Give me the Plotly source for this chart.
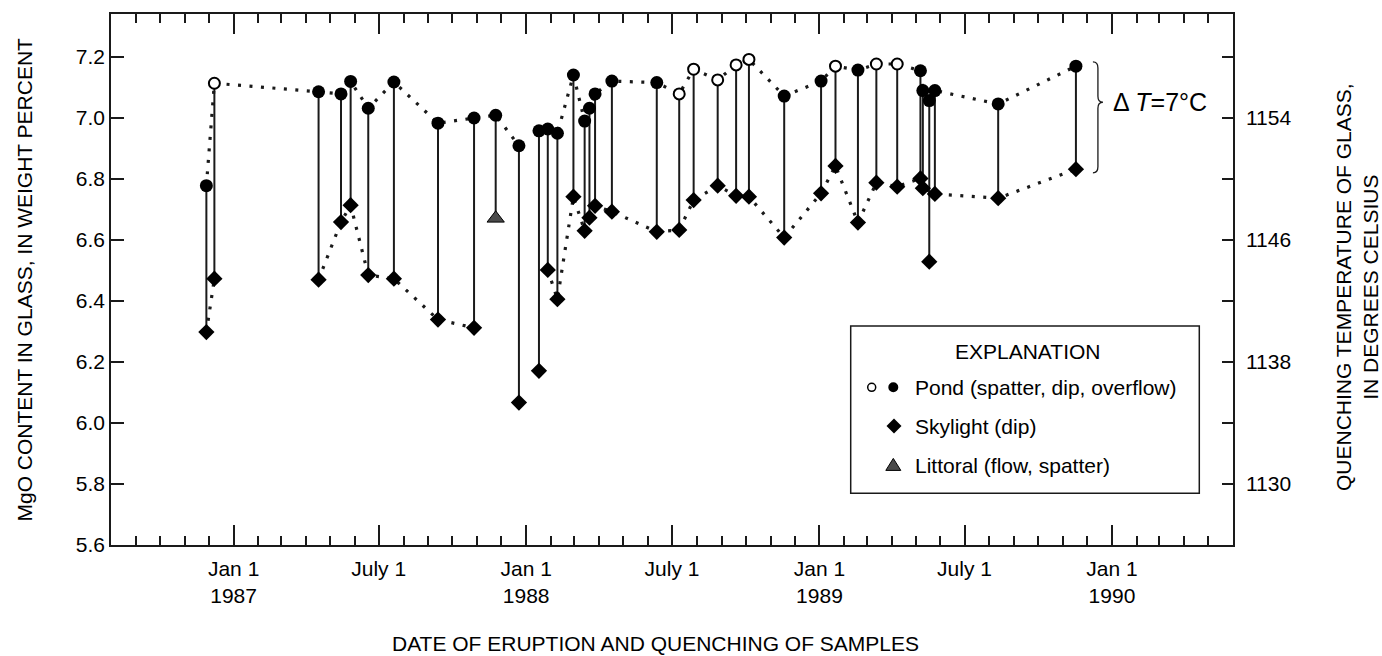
import plotly.graph_objects as go

# ---------------- data ----------------
dates = ["1986-11-28", "1986-12-08", "1987-04-17", "1987-05-15", "1987-05-27",
         "1987-06-18", "1987-07-20", "1987-09-13", "1987-10-28", "1987-11-24",
         "1987-12-23", "1988-01-17", "1988-01-28", "1988-02-09", "1988-02-29",
         "1988-03-14", "1988-03-20", "1988-03-27", "1988-04-17", "1988-06-12",
         "1988-07-10", "1988-07-28", "1988-08-27", "1988-09-19", "1988-10-05",
         "1988-11-18", "1989-01-03", "1989-01-21", "1989-02-18", "1989-03-13",
         "1989-04-08", "1989-05-07", "1989-05-10", "1989-05-18", "1989-05-25",
         "1989-08-12", "1989-11-17"]
pond_mgo = [6.778, 7.114, 7.086, 7.079, 7.120, 7.032, 7.118, 6.983, 7.000, 7.009,
            6.909, 6.958, 6.964, 6.950, 7.141, 6.990, 7.032, 7.079, 7.121, 7.116,
            7.079, 7.160, 7.125, 7.174, 7.192, 7.072, 7.121, 7.170, 7.157, 7.177,
            7.177, 7.155, 7.090, 7.057, 7.090, 7.046, 7.170]
# 1 = open circle, 0 = filled circle
pond_open = [0, 1, 0, 0, 0, 0, 0, 0, 0, 0,
             0, 0, 0, 0, 0, 0, 0, 0, 0, 0,
             1, 1, 1, 1, 1, 0, 0, 1, 0, 1,
             1, 0, 0, 0, 0, 0, 0]
lower_mgo = [6.298, 6.473, 6.470, 6.659, 6.714, 6.485, 6.473, 6.339, 6.312, 6.671,
             6.067, 6.171, 6.502, 6.406, 6.742, 6.630, 6.673, 6.712, 6.693, 6.627,
             6.633, 6.731, 6.778, 6.745, 6.742, 6.608, 6.753, 6.843, 6.657, 6.788,
             6.775, 6.802, 6.770, 6.529, 6.751, 6.737, 6.832]
# S = skylight (dip), L = littoral (flow, spatter)
lower_kind = ["S"] * 9 + ["L"] + ["S"] * 27
# chains of samples joined by the dotted lines
pond_chains = [list(range(0, 11)), list(range(11, 37))]
sky_chains = [[0, 1], list(range(2, 9)), list(range(12, 33)) + [34, 35, 36]]

x_range = ["1986-08-01", "1990-06-01"]
y_range = [5.6, 7.341]
y_ticks = [5.6, 5.8, 6.0, 6.2, 6.4, 6.6, 6.8, 7.0, 7.2]
x_major = ["1987-01-01", "1987-07-01", "1988-01-01", "1988-07-01",
           "1989-01-01", "1989-07-01", "1990-01-01"]
x_major_text = ["Jan 1<br>1987", "July 1", "Jan 1<br>1988", "July 1",
                "Jan 1<br>1989", "July 1", "Jan 1<br>1990"]
# quenching temperature: T = 1154 + 20*(MgO - 7.0)
t_ticks = [1126, 1130, 1134, 1138, 1142, 1146, 1150, 1154, 1158]
t_labels = ["", "1130", "", "1138", "", "1146", "", "1154", ""]

def mgo_to_t(m):
    return 1154 + 20 * (m - 7.0)

FONT = "Liberation Sans, Arial, Helvetica, sans-serif"
INK = "#1a1a1a"

fig = go.Figure()

# vertical stems pond -> skylight / littoral
sx, sy = [], []
for d, p, l in zip(dates, pond_mgo, lower_mgo):
    sx += [d, d, None]
    sy += [p, l, None]
fig.add_trace(go.Scatter(x=sx, y=sy, mode="lines",
                         line=dict(color=INK, width=2), hoverinfo="skip"))

def chain_xy(chains, vals):
    cx, cy = [], []
    for ch in chains:
        for i in ch:
            cx.append(dates[i]); cy.append(vals[i])
        cx.append(None); cy.append(None)
    return cx, cy

for chains, vals in ((pond_chains, pond_mgo), (sky_chains, lower_mgo)):
    cx, cy = chain_xy(chains, vals)
    fig.add_trace(go.Scatter(x=cx, y=cy, mode="lines",
                             line=dict(color=INK, width=3.2, dash="3px,8.5px"),
                             hoverinfo="skip"))

# skylight diamonds
sk = [i for i, k in enumerate(lower_kind) if k == "S"]
fig.add_trace(go.Scatter(x=[dates[i] for i in sk], y=[lower_mgo[i] for i in sk],
                         mode="markers",
                         marker=dict(symbol="diamond", size=12.5, color="black",
                                     line=dict(width=0))))
# littoral triangle
lt = [i for i, k in enumerate(lower_kind) if k == "L"]
fig.add_trace(go.Scatter(x=[dates[i] for i in lt], y=[lower_mgo[i] for i in lt],
                         mode="markers",
                         marker=dict(symbol="triangle-up", size=15, color="#4a4a4a",
                                     line=dict(width=1, color="black"))))
# pond circles
fi = [i for i, o in enumerate(pond_open) if not o]
op = [i for i, o in enumerate(pond_open) if o]
fig.add_trace(go.Scatter(x=[dates[i] for i in fi], y=[pond_mgo[i] for i in fi],
                         mode="markers",
                         marker=dict(symbol="circle", size=13, color="black",
                                     line=dict(width=0))))
fig.add_trace(go.Scatter(x=[dates[i] for i in op], y=[pond_mgo[i] for i in op],
                         mode="markers",
                         marker=dict(symbol="circle", size=11, color="white",
                                     line=dict(width=2, color="black"))))

tickfont = dict(family=FONT, size=21, color="black")
xcommon = dict(type="date", range=x_range, showgrid=False, zeroline=False,
               showline=True, linecolor=INK, linewidth=1.5,
               ticks="inside", tickvals=x_major, ticklen=20, tickwidth=1.5,
               tickcolor=INK,
               minor=dict(ticks="inside", ticklen=9, tickwidth=1.5, tickcolor=INK,
                          dtick="M1", tick0="1986-08-01", showgrid=False))

fig.update_layout(
    width=1382, height=656,
    margin=dict(l=111, r=149, t=14, b=111),
    paper_bgcolor="white", plot_bgcolor="white",
    showlegend=False,
    font=dict(family=FONT, size=21, color="black"),
    xaxis=dict(**xcommon, ticktext=x_major_text, tickfont=tickfont,
               ticklabelstandoff=4),
    xaxis2=dict(**xcommon, overlaying="x", side="top", anchor="y",
                showticklabels=False),
    yaxis=dict(range=y_range, tickvals=y_ticks,
               ticktext=[f"{v:.1f}" for v in y_ticks],
               showgrid=False, zeroline=False, showline=True, linecolor=INK,
               linewidth=1.5, ticks="inside", ticklen=13, tickwidth=1.5,
               tickcolor=INK, tickfont=tickfont),
    yaxis2=dict(range=[mgo_to_t(y_range[0]), mgo_to_t(y_range[1])],
                overlaying="y", side="right", anchor="x",
                tickvals=t_ticks, ticktext=t_labels,
                showgrid=False, zeroline=False, showline=True, linecolor=INK,
                linewidth=1.5, ticks="inside", ticklen=11, tickwidth=1.5,
                tickcolor=INK, tickfont=tickfont, ticklabelstandoff=7),
)

# invisible trace to register the top and right axes
fig.add_trace(go.Scatter(x=[dates[0]], y=[mgo_to_t(pond_mgo[0])], xaxis="x2",
                         yaxis="y2", mode="markers", marker=dict(opacity=0),
                         hoverinfo="skip"))

def px_x(p):
    return (p - 111) / 1122

def px_y(p):
    return (545 - p) / 531

# axis titles
fig.add_annotation(text="MgO CONTENT IN GLASS, IN WEIGHT PERCENT", xref="paper",
                   yref="paper", x=px_x(24), y=0.5, textangle=-90, showarrow=False,
                   xanchor="center", yanchor="middle",
                   font=dict(family=FONT, size=21, color="black"))
fig.add_annotation(text="QUENCHING TEMPERATURE OF GLASS,<br>IN DEGREES CELSIUS",
                   xref="paper", yref="paper", x=px_x(1357), y=px_y(287),
                   textangle=-90, showarrow=False, xanchor="center", yanchor="middle",
                   font=dict(family=FONT, size=21, color="black"))
fig.add_annotation(text="DATE OF ERUPTION AND QUENCHING OF SAMPLES", xref="paper",
                   yref="paper", x=px_x(390), y=px_y(643), xanchor="left",
                   yanchor="middle", showarrow=False,
                   font=dict(family=FONT, size=21, color="black"))

# brace marking the temperature difference of the last pair
top = pond_mgo[-1] + 0.014
bot = lower_mgo[-1] - 0.012
tip = pond_mgo[-1] - 0.35 * (pond_mgo[-1] - lower_mgo[-1])
h = 0.02
path = (f"M 17,{top} Q 22,{top} 22,{top - h} L 22,{tip + h} "
        f"Q 22,{tip} 27,{tip} Q 22,{tip} 22,{tip - h} L 22,{bot + h} "
        f"Q 22,{bot} 17,{bot}")
fig.add_shape(type="path", xref="x", yref="y", xsizemode="pixel", xanchor=dates[-1],
              path=path, line=dict(color=INK, width=1.3))
dT = round(mgo_to_t(pond_mgo[-1]) - mgo_to_t(lower_mgo[-1]))
fig.add_annotation(text=f"Δ <i>T</i>={dT}°C", xref="paper", yref="y",
                   x=px_x(1111), y=tip, xanchor="left", yanchor="middle",
                   showarrow=False, font=dict(family=FONT, size=25, color="black"))

# explanation box
fig.add_shape(type="rect", xref="paper", yref="paper",
              x0=px_x(850.7), x1=px_x(1199.3), y0=px_y(493.3), y1=px_y(326),
              line=dict(color=INK, width=1.5), fillcolor="white", layer="above")
fig.add_annotation(text="EXPLANATION", xref="paper", yref="paper", x=px_x(1027.7),
                   y=px_y(351), xanchor="center", yanchor="middle", showarrow=False,
                   font=dict(family=FONT, size=21, color="black"))
rows = [("Pond (spatter, dip, overflow)", 387.3),
        ("Skylight (dip)", 426),
        ("Littoral (flow, spatter)", 465)]
for txt, yy in rows:
    fig.add_annotation(text=txt, xref="paper", yref="paper", x=px_x(913),
                       y=px_y(yy), xanchor="left", yanchor="middle", showarrow=False,
                       font=dict(family=FONT, size=21, color="black"))

# legend symbols (pixel-sized shapes)
def sym(kind, cx, cy, fill, r, lw=0):
    common = dict(xref="paper", yref="paper", xsizemode="pixel", ysizemode="pixel",
                  xanchor=px_x(cx), yanchor=px_y(cy), fillcolor=fill,
                  line=dict(color="black", width=lw), layer="above")
    if kind == "circle":
        fig.add_shape(type="circle", x0=-r, x1=r, y0=-r, y1=r, **common)
    elif kind == "diamond":
        fig.add_shape(type="path", path=f"M {-r},0 L 0,{r} L {r},0 L 0,{-r} Z",
                      **common)
    elif kind == "triangle":
        fig.add_shape(type="path",
                      path=f"M {-r},{-0.72*r} L {r},{-0.72*r} L 0,{0.88*r} Z",
                      **common)

sym("circle", 871.7, 387.3, "white", 4, 1.5)
sym("circle", 893.3, 387.3, "black", 5)
sym("diamond", 894, 426, "black", 7.5)
sym("triangle", 893.3, 465, "#4a4a4a", 7.5, 1)

fig.write_html("out.html", config={"displayModeBar": False},
               post_script="document.body.style.margin='0px';")
